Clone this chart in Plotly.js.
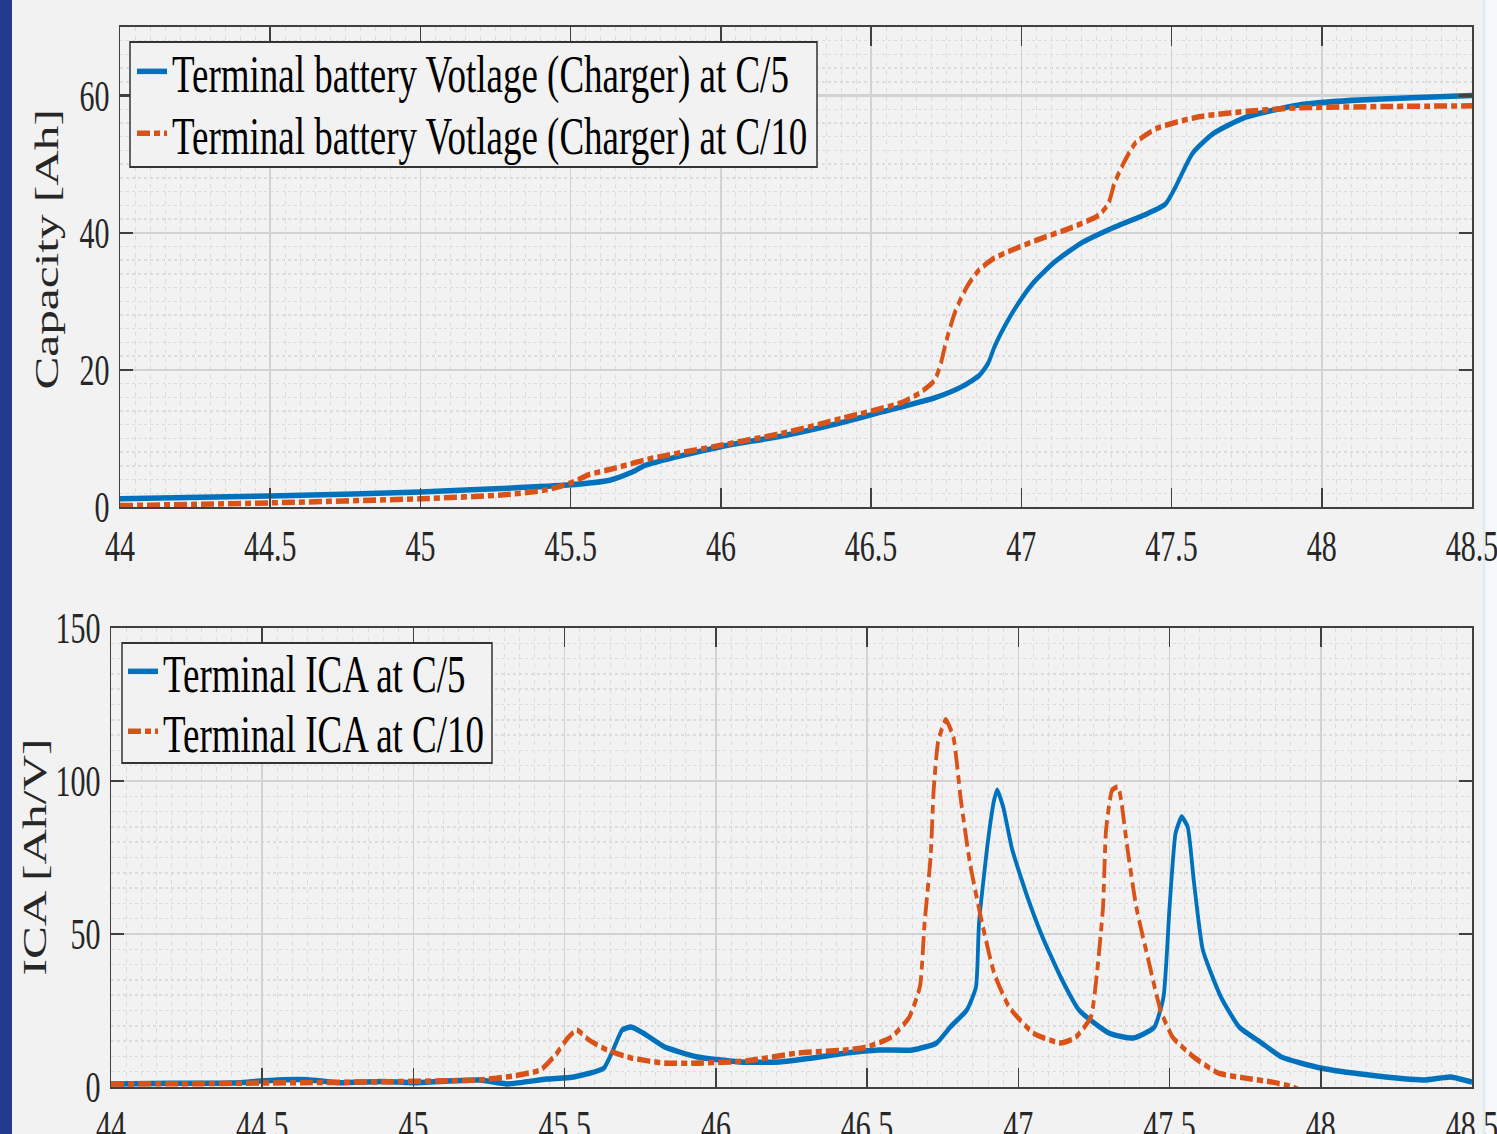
<!DOCTYPE html>
<html>
<head>
<meta charset="utf-8">
<script src="https://cdn.plot.ly/plotly-3.0.1.min.js"></script>
<style>
html,body{margin:0;padding:0;background:#f2f2f2;overflow:hidden;width:1497px;height:1134px}
#chart{width:1497px;height:782px;transform-origin:0 0}
</style>
</head>
<body>
<div id="chart"></div>
<script>
// ---- Data ----
// Top: capacity [Ah] vs terminal voltage [V]
const capVoltC5 = [44.0,44.5,45.0,45.27,45.49,45.63,45.7,45.75,45.88,46.0,46.22,46.41,46.53,46.71,46.80,46.86,46.89,46.91,46.95,46.99,47.04,47.11,47.20,47.31,47.42,47.48,47.51,47.54,47.57,47.64,47.75,47.92,48.1,48.3,48.5];
const capC5 = [1.2,1.6,2.2,2.7,3.2,3.9,5.0,6.1,7.6,8.8,10.5,12.4,13.8,15.9,17.5,19.2,21.0,23.3,26.8,29.7,32.7,35.7,38.5,40.8,42.8,44.2,46.4,49.1,51.6,54.5,56.9,58.6,59.3,59.7,60.0];
const capVoltC10 = [44.0,44.5,45.0,45.27,45.42,45.5,45.56,45.65,45.77,46.0,46.22,46.41,46.6,46.66,46.71,46.73,46.75,46.78,46.82,46.86,46.91,46.97,47.05,47.17,47.26,47.29,47.31,47.34,47.38,47.45,47.59,47.75,47.92,48.2,48.5];
const capC10 = [0.2,0.6,1.2,1.75,2.5,3.5,4.7,5.7,7.1,9.0,10.9,13.0,15.2,16.6,18.4,20.6,24.2,28.5,32.2,34.6,36.3,37.5,38.9,40.8,42.6,44.3,47.2,50.1,53.1,55.2,56.9,57.7,58.2,58.4,58.5];

// Bottom: incremental capacity [Ah/V] vs voltage [V]
const icaVoltC5 = [44.0,44.2,44.4,44.55,44.65,44.75,44.9,45.0,45.1,45.22,45.31,45.44,45.53,45.63,45.66,45.69,45.72,45.76,45.83,45.94,46.08,46.21,46.32,46.43,46.54,46.65,46.73,46.775,46.83,46.86,46.87,46.90,46.92,46.93,46.95,46.98,47.03,47.08,47.14,47.20,47.30,47.38,47.45,47.48,47.50,47.52,47.54,47.56,47.58,47.61,47.67,47.73,47.80,47.87,48.0,48.16,48.34,48.43,48.5];
const icaC5 = [1.0,1.2,1.3,2.3,2.4,1.4,1.8,1.4,1.9,2.3,1.0,2.6,3.3,6.2,12.1,18.6,19.6,17.6,13.1,9.8,8.2,8.2,9.5,11.1,12.1,12.1,14.4,19.6,25.2,32.7,53.6,80.7,93.8,97,91.5,77.5,62.1,49,35.9,25.2,17.6,16.0,19.6,29.4,58.8,83,88.2,85,67.6,44.8,29.4,19.6,14.7,9.8,6.2,3.9,2.3,3.3,1.6];
const icaVoltC10 = [44.0,44.3,44.6,44.9,45.1,45.22,45.33,45.42,45.47,45.51,45.54,45.58,45.64,45.72,45.83,45.94,46.10,46.27,46.43,46.50,46.58,46.64,46.675,46.69,46.71,46.72,46.735,46.76,46.785,46.81,46.84,46.88,46.92,46.97,47.05,47.14,47.19,47.24,47.26,47.28,47.29,47.31,47.33,47.34,47.36,47.39,47.43,47.47,47.51,47.58,47.66,47.75,47.84,47.90,47.93];
const icaC10 = [1.0,1.1,1.4,1.7,2.0,2.3,3.6,5.6,10.5,16.0,18.6,15.4,12.1,9.5,7.8,7.8,8.5,11.1,12.1,13.1,16.3,22.9,33,53.6,75.2,97,113,120,114.5,93.8,73.2,53.6,37.2,26.1,17.6,14.4,16.3,22.9,37.2,58.8,84,97,98,93.8,78.4,58.8,41.5,25.2,16.3,9.8,4.6,2.9,1.6,0.2,-1.0];

const xTickVals = [44,44.5,45,45.5,46,46.5,47,47.5,48,48.5];
const capTickVals = [0,20,40,60];
const icaTickVals = [0,50,100,150];

const seriesNames = {
  capC5: 'Terminal battery Votlage (Charger) at C/5',
  capC10: 'Terminal battery Votlage (Charger) at C/10',
  icaC5: 'Terminal ICA at C/5',
  icaC10: 'Terminal ICA at C/10'
};
const capTitle = 'Capacity [Ah]';
const icaTitle = 'ICA [Ah/V]';

// ---- Geometry / style ----
const W = 1497, FULLH = 1134, H = 782;
const SY = FULLH / H;
document.getElementById('chart').style.transform = 'scaleY(' + SY + ')';

const BLUE = '#0072BD', ORANGE = '#D95319';
const DASH = '13px,4px,6px,4px';
const FONT = 'Liberation Serif, Times New Roman, serif';
const px = v => v / W;
const py = v => 1 - v / FULLH;

function xAxis(domain, anchor) {
  return {
    domain: domain, anchor: anchor, range: [44, 48.5],
    tickmode: 'array', tickvals: xTickVals, ticktext: xTickVals.map(String),
    ticks: 'inside', ticklen: 13, tickwidth: 1.5, tickcolor: '#404040',
    showline: true, linecolor: '#404040', linewidth: 1.5, mirror: 'ticks',
    showgrid: true, gridcolor: '#d2d2d2', gridwidth: 1.5,
    minor: {dtick: 0.05, tick0: 44, showgrid: true, gridcolor: '#dcdcdc', gridwidth: 1, griddash: 'dot', ticks: ''},
    zeroline: false, tickfont: {family: FONT, size: 30, color: '#262626'},
    ticklabelstandoff: 0, ticklabeloverflow: 'allow'
  };
}
function yAxis(domain, anchor, range, tickvals, minorDt) {
  return {
    domain: domain, anchor: anchor, range: range,
    tickmode: 'array', tickvals: tickvals, ticktext: tickvals.map(String),
    ticks: 'inside', ticklen: 13, tickwidth: 1.5, tickcolor: '#404040',
    showline: true, linecolor: '#404040', linewidth: 1.5, mirror: 'ticks',
    showgrid: true, gridcolor: '#d2d2d2', gridwidth: 1.5,
    minor: {dtick: minorDt, tick0: 0, showgrid: true, gridcolor: '#dcdcdc', gridwidth: 1, griddash: 'dot', ticks: ''},
    zeroline: false, tickfont: {family: FONT, size: 30, color: '#262626'},
    ticklabelstandoff: 3, ticklabeloverflow: 'allow'
  };
}

const traces = [
  {x: capVoltC5, y: capC5, name: seriesNames.capC5, type: 'scatter', mode: 'lines',
   line: {color: BLUE, width: 3.8, shape: 'spline', smoothing: 0.6}, xaxis: 'x', yaxis: 'y', legend: 'legend'},
  {x: capVoltC10, y: capC10, name: seriesNames.capC10, type: 'scatter', mode: 'lines',
   line: {color: ORANGE, width: 3.8, dash: DASH, shape: 'spline', smoothing: 0.6}, xaxis: 'x', yaxis: 'y', legend: 'legend2'},
  {x: icaVoltC5, y: icaC5, name: seriesNames.icaC5, type: 'scatter', mode: 'lines',
   line: {color: BLUE, width: 3.8, shape: 'spline', smoothing: 0.5}, xaxis: 'x2', yaxis: 'y2', legend: 'legend3'},
  {x: icaVoltC10, y: icaC10, name: seriesNames.icaC10, type: 'scatter', mode: 'lines',
   line: {color: ORANGE, width: 3.8, dash: DASH, shape: 'spline', smoothing: 0.5}, xaxis: 'x2', yaxis: 'y2', legend: 'legend4'}
];

function leg(xPix, yPix) {
  return {x: px(xPix), xanchor: 'left', y: py(yPix), yanchor: 'middle',
          bgcolor: 'rgba(0,0,0,0)', borderwidth: 0,
          font: {family: FONT, size: 37, color: '#000000'}};
}
function yTitle(text, xPix, yPix) {
  return {text: text, xref: 'paper', yref: 'paper', x: px(xPix), y: py(yPix),
          xanchor: 'center', yanchor: 'middle', textangle: -90, showarrow: false,
          font: {family: FONT, size: 34, color: '#262626'}};
}

const layout = {
  width: W, height: H,
  margin: {l: 0, r: 0, t: 0, b: 0},
  paper_bgcolor: '#f2f2f2', plot_bgcolor: '#f2f2f2',
  font: {family: FONT, color: '#262626'},
  showlegend: true,
  xaxis: xAxis([px(120), px(1472)], 'y'),
  yaxis: yAxis([py(507), py(27)], 'x', [0, 70], capTickVals, 2),
  xaxis2: xAxis([px(111), px(1472)], 'y2'),
  yaxis2: yAxis([py(1087), py(628)], 'x2', [0, 150], icaTickVals, 5),
  legend: leg(132, 72),
  legend2: leg(132, 134),
  legend3: leg(123, 672),
  legend4: leg(123, 732),
  annotations: [yTitle(capTitle, 47, 249), yTitle(icaTitle, 35, 858)],
  shapes: [
    {type: 'rect', xref: 'paper', yref: 'paper', x0: px(130), x1: px(817), y0: py(167), y1: py(42),
     line: {color: '#333333', width: 1.5}, fillcolor: '#f2f2f2', layer: 'above'},
    {type: 'rect', xref: 'paper', yref: 'paper', x0: px(122), x1: px(492), y0: py(763), y1: py(643),
     line: {color: '#333333', width: 1.5}, fillcolor: '#f2f2f2', layer: 'above'},
    {type: 'rect', xref: 'paper', yref: 'paper', x0: 0, x1: px(12), y0: 0, y1: 1,
     line: {width: 0}, fillcolor: '#233a90', layer: 'above'},
    {type: 'rect', xref: 'paper', yref: 'paper', x0: px(1482), x1: 1, y0: 0, y1: 1,
     line: {width: 0}, fillcolor: '#f7f8f9', layer: 'below'},
    {type: 'line', xref: 'paper', yref: 'paper', x0: px(1484), x1: px(1484), y0: 0, y1: 1,
     line: {width: 3, color: '#e2eaf2'}, layer: 'below'}
  ]
};

Plotly.newPlot('chart', traces, layout, {displayModeBar: false, staticPlot: true});
</script>
</body>
</html>
